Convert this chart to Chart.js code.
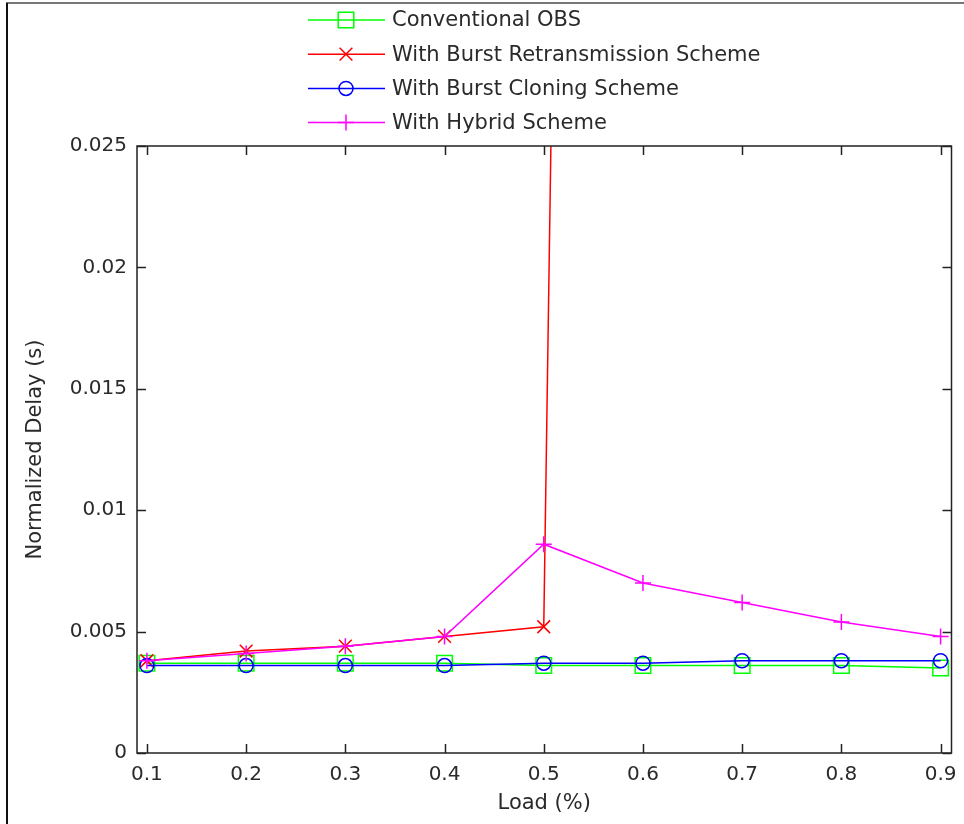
<!DOCTYPE html>
<html>
<head>
<meta charset="utf-8">
<title>Normalized Delay vs Load</title>
<script src="https://cdn.jsdelivr.net/npm/chart.js@4.4.0/dist/chart.umd.min.js"></script>
<style>
  html, body { margin: 0; padding: 0; background: #fff; }
  #wrap { width: 964px; height: 824px; position: relative; }
</style>
</head>
<body>
<div id="wrap"><canvas id="delayChart" width="964" height="824"></canvas></div>
<script>
// === DATA ===
const loads = [0.1, 0.2, 0.3, 0.4, 0.5, 0.6, 0.7, 0.8, 0.9];
const xTickLabels = ["0.1", "0.2", "0.3", "0.4", "0.5", "0.6", "0.7", "0.8", "0.9"];
const yTicks = [0, 0.005, 0.01, 0.015, 0.02, 0.025];
const yTickLabels = ["0", "0.005", "0.01", "0.015", "0.02", "0.025"];

const conventionalObs = [0.0037, 0.0037, 0.0037, 0.0037, 0.0036, 0.0036, 0.0036, 0.0036, 0.0035];
const burstRetransmission = [0.0038, 0.0042, 0.0044, 0.0048, 0.0052, 0.28, null, null, null];
const burstCloning = [0.0036, 0.0036, 0.0036, 0.0036, 0.0037, 0.0037, 0.0038, 0.0038, 0.0038];
const hybridScheme = [0.0038, 0.0041, 0.0044, 0.0048, 0.0086, 0.0070, 0.0062, 0.0054, 0.0048];

const seriesNames = [
  "Conventional OBS",
  "With Burst Retransmission Scheme",
  "With Burst Cloning Scheme",
  "With Hybrid Scheme"
];

const FONT = "'DejaVu Sans', sans-serif";
const INK = "#2a2a2a";

function toPoints(arr) {
  return loads.map((x, i) => ({ x: x, y: arr[i] }));
}

function makeSet(label, data, color, style, radius, order) {
  return {
    label: label,
    data: toPoints(data),
    borderColor: color,
    backgroundColor: "rgba(0,0,0,0)",
    borderWidth: 1.5,
    pointStyle: style,
    pointRadius: radius,
    pointHoverRadius: radius,
    pointBorderColor: color,
    pointBackgroundColor: "rgba(0,0,0,0)",
    pointBorderWidth: 1.5,
    spanGaps: false,
    tension: 0,
    order: order
  };
}

// frame, axes box, inward ticks, legend above the box
const matlabLook = {
  id: "matlabLook",
  beforeDraw(chart) {
    const ctx = chart.ctx;
    ctx.save();
    ctx.fillStyle = "#fff";
    ctx.fillRect(0, 0, chart.width, chart.height);
    ctx.strokeStyle = "#777";
    ctx.lineWidth = 2;
    ctx.beginPath();
    ctx.moveTo(6, 3); ctx.lineTo(chart.width, 3);
    ctx.stroke();
    ctx.strokeStyle = "#111";
    ctx.beginPath();
    ctx.moveTo(7, 3); ctx.lineTo(7, chart.height);
    ctx.stroke();
    ctx.restore();
  },
  afterDraw(chart) {
    const ctx = chart.ctx;
    const a = chart.chartArea;
    const xs = chart.scales.x, ys = chart.scales.y;
    const tick = 9;
    ctx.save();
    ctx.strokeStyle = "#222";
    ctx.lineWidth = 1.5;
    ctx.strokeRect(a.left, a.top, a.right - a.left, a.bottom - a.top);
    ctx.beginPath();
    loads.forEach(v => {
      const px = Math.round(xs.getPixelForValue(v)) + 0.5;
      ctx.moveTo(px, a.bottom); ctx.lineTo(px, a.bottom - tick);
      ctx.moveTo(px, a.top); ctx.lineTo(px, a.top + tick);
    });
    yTicks.forEach(v => {
      const py = Math.round(ys.getPixelForValue(v)) + 0.5;
      ctx.moveTo(a.left, py); ctx.lineTo(a.left + tick, py);
      ctx.moveTo(a.right, py); ctx.lineTo(a.right - tick, py);
    });
    ctx.stroke();

    // legend
    ctx.font = "21px " + FONT;
    ctx.textBaseline = "middle";
    ctx.textAlign = "left";
    chart.data.datasets.forEach((ds, i) => {
      const y = 20 + i * 34.2;
      ctx.strokeStyle = ds.borderColor;
      ctx.lineWidth = 1.5;
      ctx.beginPath();
      ctx.moveTo(308, y); ctx.lineTo(385, y);
      ctx.stroke();
      if (Chart.helpers && Chart.helpers.drawPoint) {
        ctx.strokeStyle = ds.pointBorderColor;
        ctx.fillStyle = "rgba(0,0,0,0)";
        ctx.lineWidth = ds.pointBorderWidth;
        Chart.helpers.drawPoint(ctx, {
          pointStyle: ds.pointStyle,
          radius: ds.pointRadius,
          rotation: 0,
          borderWidth: ds.pointBorderWidth
        }, 346, y);
      }
      ctx.fillStyle = INK;
      ctx.fillText(ds.label, 392, y + 1);
    });
    ctx.restore();
  }
};

Chart.defaults.font.family = FONT;
Chart.defaults.color = INK;

const chart = new Chart(document.getElementById("delayChart"), {
  type: "line",
  data: {
    datasets: [
      makeSet(seriesNames[0], conventionalObs, "#00ff00", "rect", 11, 4),
      makeSet(seriesNames[1], burstRetransmission, "#ff0000", "crossRot", 9, 3),
      makeSet(seriesNames[2], burstCloning, "#0000ff", "circle", 7, 2),
      makeSet(seriesNames[3], hybridScheme, "#ff00ff", "cross", 8, 1)
    ]
  },
  options: {
    responsive: false,
    animation: false,
    devicePixelRatio: 1,
    layout: { padding: { top: 146, right: 12, left: 0, bottom: 0 } },
    plugins: {
      legend: { display: false },
      tooltip: { enabled: false }
    },
    scales: {
      x: {
        type: "linear",
        min: 0.09,
        max: 0.911,
        afterBuildTicks: s => { s.ticks = loads.map(v => ({ value: v })); },
        afterFit: s => { s.height = 71; s.paddingLeft = 0; s.paddingRight = 0; },
        grid: { display: false, drawTicks: false },
        border: { display: false },
        ticks: {
          autoSkip: false,
          maxRotation: 0,
          padding: 10,
          color: INK,
          font: { size: 20, family: FONT },
          callback: (v, i) => xTickLabels[i]
        },
        title: {
          display: true,
          text: "Load (%)",
          color: INK,
          font: { size: 21, family: FONT },
          padding: { top: 0, bottom: 8 }
        }
      },
      y: {
        type: "linear",
        min: 0,
        max: 0.025,
        afterBuildTicks: s => { s.ticks = yTicks.map(v => ({ value: v })); },
        afterFit: s => { s.width = 137; },
        grid: { display: false, drawTicks: false },
        border: { display: false },
        ticks: {
          padding: 10,
          color: INK,
          font: { size: 20, family: FONT },
          callback: (v, i) => yTickLabels[i]
        },
        title: {
          display: true,
          text: "Normalized Delay (s)",
          color: INK,
          font: { size: 21, family: FONT },
          padding: { top: 23, bottom: 0 }
        }
      }
    }
  },
  plugins: [matlabLook]
});
</script>
</body>
</html>
